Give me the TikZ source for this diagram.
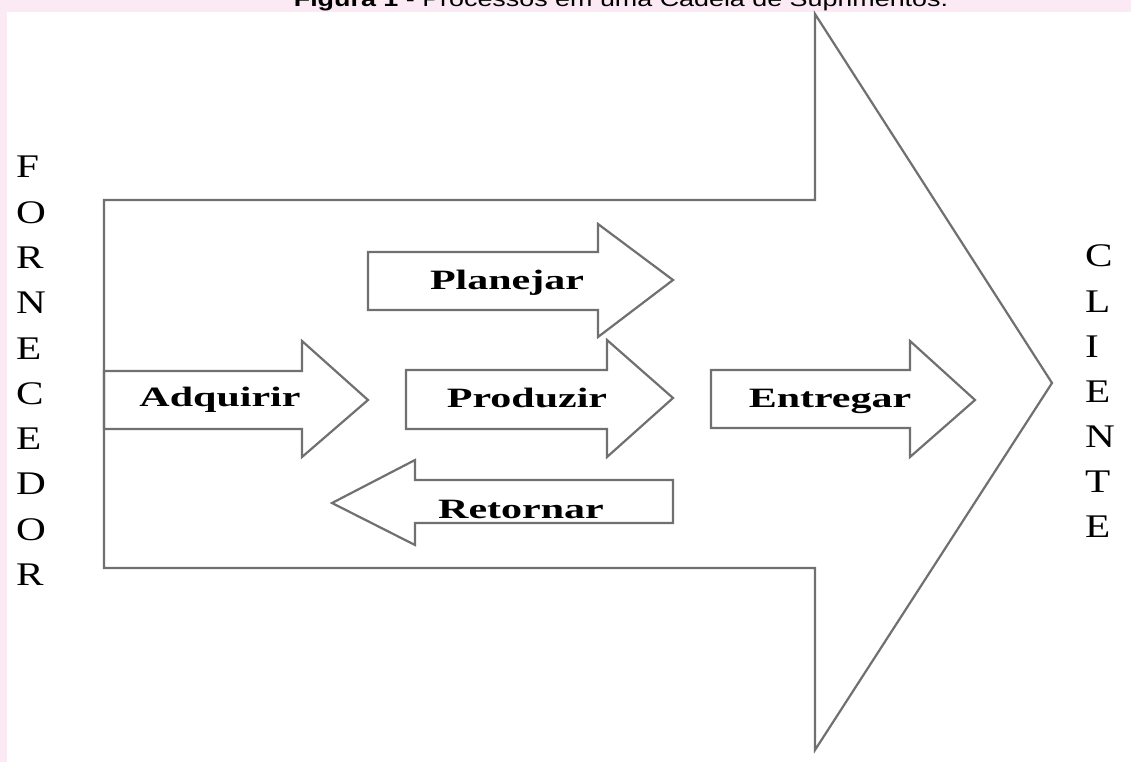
\documentclass[tikz,border=0pt]{standalone}
\usepackage{fontspec}
\setmainfont{Liberation Serif}
\newfontfamily\titlefont{Liberation Sans}
\definecolor{pinkbg}{RGB}{251,233,243}
\definecolor{linegray}{RGB}{112,112,112}
\begin{document}
\begin{tikzpicture}[x=1pt,y=-1pt,
  arrowshape/.style={draw=linegray, line width=2.2pt, line join=miter},
  lbl/.style={font=\fontsize{28}{30}\selectfont\bfseries, inner sep=0, anchor=base},
  side/.style={font=\fontsize{33}{35}\selectfont, inner sep=0, anchor=west},
]
\fill[pinkbg] (0,0) rectangle (1131,762);
\fill[white] (7,12) rectangle (1131,762);
\useasboundingbox (0,0) rectangle (1131,762);
\begin{scope}
\clip (0,0) rectangle (1131,762);
\node[font=\titlefont\fontsize{21}{23}\selectfont, anchor=base, inner sep=0] (title) at (621,7)
  {\scalebox{1.28}[1]{\textbf{Figura 1} - Processos em uma Cadeia de Suprimentos.}};
\end{scope}

% big arrow
\draw[arrowshape] (104,200) -- (815,200) -- (815,14) -- (1052,383) -- (815,750) -- (815,568) -- (104,568) -- cycle;
% Adquirir
\draw[arrowshape] (104,371) -- (302,371) -- (302,341) -- (368,400) -- (302,457) -- (302,429) -- (104,429) -- cycle;
% Planejar
\draw[arrowshape] (368,252) -- (598,252) -- (598,224) -- (673,280) -- (598,337) -- (598,310) -- (368,310) -- cycle;
% Produzir
\draw[arrowshape] (406,370) -- (607,370) -- (607,340) -- (673,398) -- (607,457) -- (607,429) -- (406,429) -- cycle;
% Retornar
\draw[arrowshape] (673,480) -- (415,480) -- (415,460) -- (332,503) -- (415,545) -- (415,523) -- (673,523) -- cycle;
% Entregar
\draw[arrowshape] (711,370) -- (910,370) -- (910,341) -- (975,400) -- (910,457) -- (910,428) -- (711,428) -- cycle;

\node[lbl] (adq) at (220,406) {\scalebox{1.5}[1]{Adquirir}};
\node[lbl] (pla) at (507,289) {\scalebox{1.5}[1]{Planejar}};
\node[lbl] (pro) at (527,407) {\scalebox{1.5}[1]{Produzir}};
\node[lbl] (ent) at (830,407) {\scalebox{1.5}[1]{Entregar}};
\node[lbl] (ret) at (521,518) {\scalebox{1.5}[1]{Retornar}};

\node[side] (f1) at (16,167) {\scalebox{1.25}[1]{F}};
\node[side] (f2) at (16,213) {\scalebox{1.25}[1]{O}};
\node[side] (f3) at (16,258) {\scalebox{1.25}[1]{R}};
\node[side] (f4) at (16,303) {\scalebox{1.25}[1]{N}};
\node[side] (f5) at (16,349) {\scalebox{1.25}[1]{E}};
\node[side] (f6) at (16,394) {\scalebox{1.25}[1]{C}};
\node[side] (f7) at (16,439) {\scalebox{1.25}[1]{E}};
\node[side] (f8) at (16,484) {\scalebox{1.25}[1]{D}};
\node[side] (f9) at (16,530) {\scalebox{1.25}[1]{O}};
\node[side] (f10) at (16,575) {\scalebox{1.25}[1]{R}};

\node[side] (c1) at (1085,256) {\scalebox{1.25}[1]{C}};
\node[side] (c2) at (1085,302) {\scalebox{1.25}[1]{L}};
\node[side] (c3) at (1085,347) {\scalebox{1.25}[1]{I}};
\node[side] (c4) at (1085,392) {\scalebox{1.25}[1]{E}};
\node[side] (c5) at (1085,437) {\scalebox{1.25}[1]{N}};
\node[side] (c6) at (1085,482) {\scalebox{1.25}[1]{T}};
\node[side] (c7) at (1085,527) {\scalebox{1.25}[1]{E}};
\end{tikzpicture}
\end{document}
